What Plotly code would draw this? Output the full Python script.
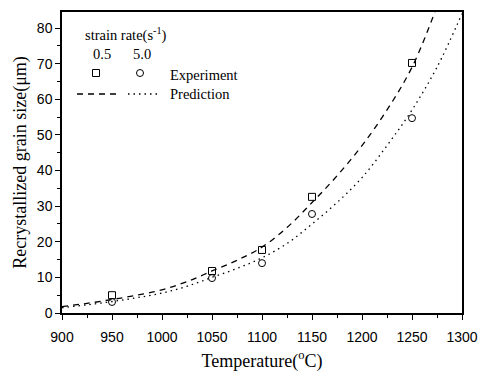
import plotly.graph_objects as go

# Experimental data
T_exp = [950, 1050, 1100, 1150, 1250]
d_exp_05 = [5.0, 11.8, 17.7, 32.6, 70.2]
d_exp_50 = [3.1, 9.8, 14.0, 27.8, 54.7]

# Prediction curves
T_pred = [900, 925, 950, 975, 1000, 1025, 1050, 1075, 1100, 1125, 1150, 1175, 1200, 1225, 1250, 1275, 1300]
d_pred_05 = [1.8, 2.7, 3.8, 5.0, 6.5, 8.8, 11.8, 14.8, 18.5, 24.0, 31.0, 38.5, 47.0, 57.0, 69.0, 86.0, 105.0]
d_pred_50 = [1.5, 2.3, 3.2, 4.3, 5.6, 7.5, 10.0, 12.5, 15.5, 19.5, 25.0, 31.0, 38.0, 47.0, 57.0, 69.0, 84.0]

x_ticks = [900, 950, 1000, 1050, 1100, 1150, 1200, 1250, 1300]
y_ticks = [0, 10, 20, 30, 40, 50, 60, 70, 80]

fig = go.Figure()
fig.add_trace(go.Scatter(x=T_pred, y=d_pred_05, mode="lines", line=dict(color="black", width=1.3, dash="6px,5px", shape="spline"), showlegend=False))
fig.add_trace(go.Scatter(x=T_pred, y=d_pred_50, mode="lines", line=dict(color="black", width=1.3, dash="1.5px,4px", shape="spline"), showlegend=False))
fig.add_trace(go.Scatter(x=T_exp, y=d_exp_05, mode="markers", marker=dict(symbol="square-open", size=7, color="black", line=dict(width=1)), showlegend=False))
fig.add_trace(go.Scatter(x=T_exp, y=d_exp_50, mode="markers", marker=dict(symbol="circle-open", size=7, color="black", line=dict(width=1)), showlegend=False))

serif = "Liberation Serif, Times New Roman, serif"
sans = "Liberation Sans, Arial, sans-serif"

# Custom legend (paper coordinates)
def px2paper(x, y):
    return (x - 62) / 400, (313 - y) / 301

ann = []
def add_text(txt, x, y, anchor="left", size=14.5):
    px, py = px2paper(x, y)
    ann.append(dict(text=txt, x=px, y=py, xref="paper", yref="paper", xanchor=anchor, yanchor="middle",
                    showarrow=False, font=dict(family=serif, size=size, color="black")))

add_text("strain rate(s<sup>-1</sup>)", 83, 35)
add_text("0.5", 102, 54, anchor="center")
add_text("5.0", 142, 54, anchor="center")
add_text("Experiment", 168, 75)
add_text("Prediction", 168, 94)
fig.update_layout(annotations=ann)

shapes = []
x0, y0 = px2paper(77, 94); x1, _ = px2paper(118, 94)
shapes.append(dict(type="line", xref="paper", yref="paper", x0=x0, x1=x1, y0=y0, y1=y0, line=dict(color="black", width=1.3, dash="6px,5px")))
x0, _ = px2paper(128, 94); x1, _ = px2paper(161, 94)
shapes.append(dict(type="line", xref="paper", yref="paper", x0=x0, x1=x1, y0=y0, y1=y0, line=dict(color="black", width=1.3, dash="1.5px,4px")))
fig.update_layout(shapes=shapes)

# legend marker samples
for sym, xpx in (("square-open", 96), ("circle-open", 140)):
    px, py = px2paper(xpx, 73)
    fig.add_trace(go.Scatter(x=[px], y=[py], xaxis="x2", yaxis="y2", mode="markers",
                             marker=dict(symbol=sym, size=7, color="black", line=dict(width=1)), showlegend=False))

fig.update_layout(
    width=489, height=372,
    margin=dict(l=62, r=27, t=12, b=59, autoexpand=False),
    plot_bgcolor="white", paper_bgcolor="white",
    xaxis=dict(range=[900, 1300], tickvals=x_ticks, ticks="outside", ticklen=5, tickwidth=1.2,
               tickcolor="black", showline=True, linecolor="black", linewidth=1.5, mirror=True,
               showgrid=False, zeroline=False, ticklabelstandoff=5, automargin=False,
               minor=dict(dtick=25, tick0=900, ticks="outside", ticklen=3, tickcolor="black"),
               tickfont=dict(family=sans, size=14, color="black"),
               title=dict(text="Temperature(<sup>o</sup>C)", font=dict(family=serif, size=18, color="black"), standoff=12)),
    yaxis=dict(range=[0, 84.5], tickvals=y_ticks, ticks="outside", ticklen=5, tickwidth=1.2,
               tickcolor="black", showline=True, linecolor="black", linewidth=1.5, mirror=True,
               showgrid=False, zeroline=False, automargin=False,
               minor=dict(dtick=5, tick0=0, ticks="outside", ticklen=3, tickcolor="black"),
               tickfont=dict(family=sans, size=14, color="black"),
               title=dict(text="Recrystallized grain size(μm)", font=dict(family=serif, size=18, color="black"), standoff=6)),
    xaxis2=dict(range=[0, 1], overlaying="x", visible=False),
    yaxis2=dict(range=[0, 1], overlaying="y", visible=False),
)

fig.write_html("out.html")
